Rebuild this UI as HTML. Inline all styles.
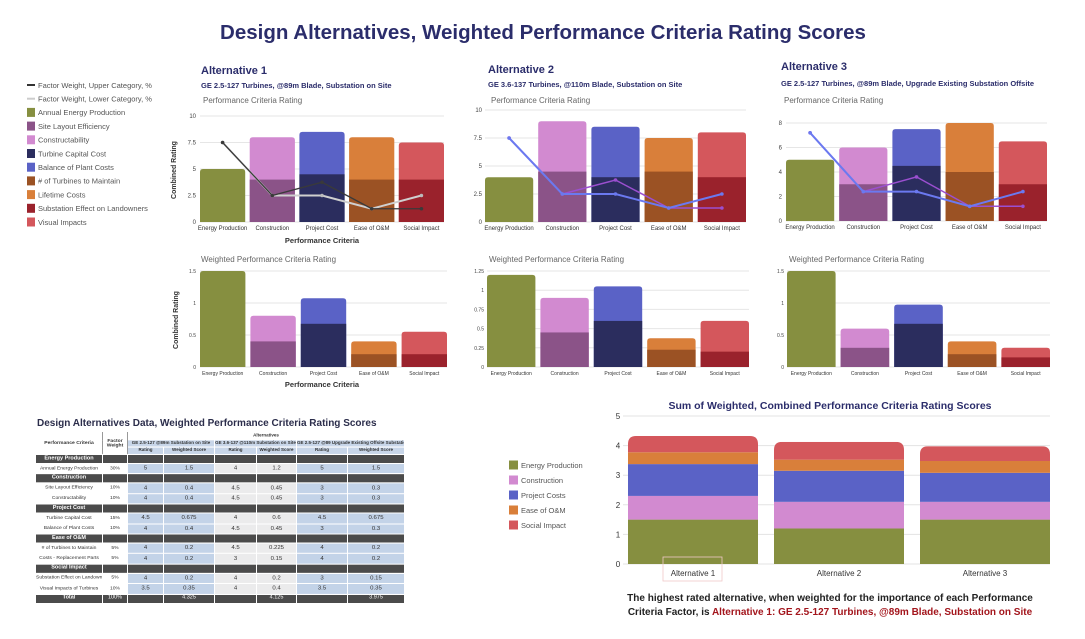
<!DOCTYPE html>
<html><head><meta charset="utf-8">
<style>
body{margin:0;width:1085px;height:639px;background:#fff;overflow:hidden;font-family:"Liberation Sans",sans-serif;position:relative}
svg{position:absolute;left:0;top:0}
#tbl{position:absolute;left:35px;top:432px;width:369px;border-collapse:collapse;table-layout:fixed;font-family:"Liberation Sans Narrow","Liberation Sans",sans-serif;font-size:5px;color:#333;transform:scale(1,0.915);transform-origin:0 0}
#tbl td{border:0.5px solid #fff;text-align:center;padding:0;overflow:hidden;white-space:nowrap;line-height:1}
#tbl tr.sec td{background:#4b4b4b;color:#fff;font-weight:bold;font-size:5.5px;height:9px}
#tbl tr.dat td{height:10.4px}
#tbl tr.dat td.b{background:#c3d3e8;font-size:6px}
#tbl tr.dat td.g{background:#ebebec;font-size:6px}
#tbl tr.dat td.w{background:#fff}
#tbl tr.h td{background:#c8d6e9;height:7px;font-size:4.5px;font-weight:bold}
#tbl tr.tot td{background:#4b4b4b;color:#fff;height:9px;font-size:5.5px}
</style></head>
<body>
<svg id="chart" width="1085" height="639"></svg>
<table id="tbl">
<colgroup><col style="width:67px"><col style="width:25px"><col style="width:36px"><col style="width:51px"><col style="width:42px"><col style="width:40px"><col style="width:51px"><col style="width:57px"></colgroup>
<tr style="height:8px"><td rowspan="3" style="font-weight:bold;font-size:5px;border-right:0.5px solid #999">Performance Criteria</td><td rowspan="3" style="font-weight:bold;font-size:5px;border-right:0.5px solid #999">Factor<br>Weight</td><td colspan="6" style="font-weight:bold;font-size:4.5px;background:#fff">Alternatives</td></tr>
<tr class="h"><td colspan="2">GE 2.5-127 @89m Substation on Site</td><td colspan="2">GE 3.6-137 @110m Substation on Site</td><td colspan="2">GE 2.5-127 @89 Upgrade Existing Offsite Substation</td></tr>
<tr class="h"><td>Rating</td><td>Weighted Score</td><td>Rating</td><td>Weighted Score</td><td>Rating</td><td>Weighted Score</td></tr>
<tr class="sec"><td>Energy Production</td><td></td><td></td><td></td><td></td><td></td><td></td><td></td></tr>
<tr class="dat"><td class="w">Annual Energy Production</td><td class="w">30%</td><td class="b">5</td><td class="b">1.5</td><td class="g">4</td><td class="g">1.2</td><td class="b">5</td><td class="b">1.5</td></tr>
<tr class="sec"><td>Construction</td><td></td><td></td><td></td><td></td><td></td><td></td><td></td></tr>
<tr class="dat"><td class="w">Site Layout Efficiency</td><td class="w">10%</td><td class="b">4</td><td class="b">0.4</td><td class="g">4.5</td><td class="g">0.45</td><td class="b">3</td><td class="b">0.3</td></tr>
<tr class="dat"><td class="w">Constructability</td><td class="w">10%</td><td class="b">4</td><td class="b">0.4</td><td class="g">4.5</td><td class="g">0.45</td><td class="b">3</td><td class="b">0.3</td></tr>
<tr class="sec"><td>Project Cost</td><td></td><td></td><td></td><td></td><td></td><td></td><td></td></tr>
<tr class="dat"><td class="w">Turbine Capital Cost</td><td class="w">15%</td><td class="b">4.5</td><td class="b">0.675</td><td class="g">4</td><td class="g">0.6</td><td class="b">4.5</td><td class="b">0.675</td></tr>
<tr class="dat"><td class="w">Balance of Plant Costs</td><td class="w">10%</td><td class="b">4</td><td class="b">0.4</td><td class="g">4.5</td><td class="g">0.45</td><td class="b">3</td><td class="b">0.3</td></tr>
<tr class="sec"><td>Ease of O&amp;M</td><td></td><td></td><td></td><td></td><td></td><td></td><td></td></tr>
<tr class="dat"><td class="w"># of Turbines to Maintain</td><td class="w">5%</td><td class="b">4</td><td class="b">0.2</td><td class="g">4.5</td><td class="g">0.225</td><td class="b">4</td><td class="b">0.2</td></tr>
<tr class="dat"><td class="w">Costs - Replacement Parts</td><td class="w">5%</td><td class="b">4</td><td class="b">0.2</td><td class="g">3</td><td class="g">0.15</td><td class="b">4</td><td class="b">0.2</td></tr>
<tr class="sec"><td>Social Impact</td><td></td><td></td><td></td><td></td><td></td><td></td><td></td></tr>
<tr class="dat"><td class="w">Substation Effect on Landowners</td><td class="w">5%</td><td class="b">4</td><td class="b">0.2</td><td class="g">4</td><td class="g">0.2</td><td class="b">3</td><td class="b">0.15</td></tr>
<tr class="dat"><td class="w">Visual Impacts of Turbines</td><td class="w">10%</td><td class="b">3.5</td><td class="b">0.35</td><td class="g">4</td><td class="g">0.4</td><td class="b">3.5</td><td class="b">0.35</td></tr>
<tr class="tot"><td style="font-weight:bold">Total</td><td>100%</td><td></td><td>4.325</td><td></td><td>4.125</td><td></td><td>3.975</td></tr>
</table>
<script>
// ---- data ----
const categories = ["Energy Production","Construction","Project Cost","Ease of O&M","Social Impact"];
const alt1Lower = [5,4,4.5,4,4];
const alt1Upper = [0,4,4,4,3.5];
const alt2Lower = [4,4.5,4,4.5,4];
const alt2Upper = [0,4.5,4.5,3,4];
const alt3Lower = [5,3,4.5,4,3];
const alt3Upper = [0,3,3,4,3.5];
const alt1WLower = [1.5,0.4,0.675,0.2,0.2];
const alt1WUpper = [0,0.4,0.4,0.2,0.35];
const alt2WLower = [1.2,0.45,0.6,0.225,0.2];
const alt2WUpper = [0,0.45,0.45,0.15,0.4];
const alt3WLower = [1.5,0.3,0.675,0.2,0.15];
const alt3WUpper = [0,0.3,0.3,0.2,0.15];
const weightUpperCat = [30,10,15,5,5];
const weightLowerCat = [30,10,10,5,10];
const tick10 = [0,2.5,5,7.5,10];
const tick8 = [0,2,4,6,8];
const tick15 = [0,0.5,1,1.5];
const tick125 = [0,0.25,0.5,0.75,1,1.25];
const sumAlternatives = ["Alternative 1","Alternative 2","Alternative 3"];
const sumEnergy = [1.5,1.2,1.5];
const sumConstruction = [0.8,0.9,0.6];
const sumProject = [1.075,1.05,0.98];
const sumEase = [0.4,0.375,0.4];
const sumSocial = [0.55,0.6,0.5];
const sumTicks = [0,1,2,3,4,5];

const lowerColors = ["#868f40","#8b5388","#2b2d5e","#9b5224","#9a222c"];
const upperColors = ["#868f40","#d28ad0","#5a62c6","#d97f3a","#d4575c"];
const NS="http://www.w3.org/2000/svg";
const svg=document.getElementById('chart');
function el(tag,attrs,parent){const e=document.createElementNS(NS,tag);for(const k in attrs)e.setAttribute(k,attrs[k]);(parent||svg).appendChild(e);return e;}
function txt(x,y,s,attrs,name){const t=el('text',Object.assign({x:x,y:y,'font-family':'Liberation Sans, sans-serif'},attrs));t.textContent=s;


return t;}
function topRound(x,y,w,h,r){r=Math.min(r,h,w/2);return `M${x},${y+h}V${y+r}Q${x},${y} ${x+r},${y}H${x+w-r}Q${x+w},${y} ${x+w},${y+r}V${y+h}Z`;}

function stacked(o){
  const g=el('g',{});
  
  
  const yS=v=>o.y0-(v/o.max)*(o.y0-o.y1);
  const n=o.lower.length,gap=o.gap,bw=(o.x1-o.x0-gap*(n-1))/n;
  const xC=i=>o.x0+i*(bw+gap)+bw/2;
  o.ticks.forEach(t=>{
    const ln=el('line',{x1:o.x0,x2:o.x1,y1:yS(t),y2:yS(t),stroke:'#e6e6e6','stroke-width':1},g);
    
    
    txt(o.tx,yS(t)+2,String(t),{'font-size':o.tfs||6,fill:'#444','text-anchor':'end'},'y-tick-label');
  });
  for(let i=0;i<n;i++){
    const x=xC(i)-bw/2,lo=o.lower[i],up=o.upper[i],tot=lo+up;
    const topC=up>0?upperColors[i]:lowerColors[i];
    const p=el('path',{d:topRound(x,yS(tot),bw,yS(0)-yS(tot),3),fill:topC},g);
    
    
    if(up>0){const r=el('rect',{x:x,y:yS(lo),width:bw,height:yS(0)-yS(lo),fill:lowerColors[i]},g);
      
      }
    txt(xC(i),o.ly,categories[i],{'font-size':o.lfs||6,fill:'#333','text-anchor':'middle'},'x-tick-label');
  }
  if(o.lines){o.lines.forEach(L=>{
    const pts=L.vals.map((v,i)=>xC(i)+','+yS(v*L.k)).join(' ');
    const pl=el('polyline',{points:pts,fill:'none',stroke:L.c,'stroke-width':L.w||1.5},g);
    
    
    L.vals.forEach((v,i)=>{const c=el('circle',{cx:xC(i),cy:yS(v*L.k),r:1.8,fill:L.dot||L.c},g);
      
      });
  });}
}

// title
txt(543,39,"Design Alternatives, Weighted Performance Criteria Rating Scores",{'font-size':20.5,'font-weight':'bold',fill:'#2b2d6b','text-anchor':'middle'},'main-title');

// left legend
const legItems=[["line","#333","Factor Weight, Upper Category, %"],["line","#ccc","Factor Weight, Lower Category, %"],
["box","#868f40","Annual Energy Production"],["box","#8b5388","Site Layout Efficiency"],["box","#d28ad0","Constructability"],
["box","#2b2d5e","Turbine Capital Cost"],["box","#5a62c6","Balance of Plant Costs"],["box","#9b5224","# of Turbines to Maintain"],
["box","#d97f3a","Lifetime Costs"],["box","#9a222c","Substation Effect on Landowners"],["box","#d4575c","Visual Impacts"]];
legItems.forEach((it,i)=>{const y=85+i*13.7;
  if(it[0]=="line"){const l=el('line',{x1:27,x2:35,y1:y,y2:y,stroke:it[1],'stroke-width':2});}
  else{const r=el('rect',{x:27,y:y-4.5,width:8,height:9,fill:it[1]});}
  txt(38,y+2.8,it[2],{'font-size':7.5,fill:'#555'},'legend-entry');
});

// headers
txt(201,74,"Alternative 1",{'font-size':11,'font-weight':'bold',fill:'#2b2d6b'},'alt1-title');
txt(201,88,"GE 2.5-127 Turbines, @89m Blade, Substation on Site",{'font-size':7.5,'font-weight':'bold',fill:'#2b2d6b'},'alt1-subtitle');
txt(203,103,"Performance Criteria Rating",{'font-size':8,fill:'#666'},'alt1-chart-title');
txt(488,73,"Alternative 2",{'font-size':11,'font-weight':'bold',fill:'#2b2d6b'},'alt2-title');
txt(488,87,"GE 3.6-137 Turbines, @110m Blade, Substation on Site",{'font-size':7.5,'font-weight':'bold',fill:'#2b2d6b'},'alt2-subtitle');
txt(491,103,"Performance Criteria Rating",{'font-size':8,fill:'#666'},'alt2-chart-title');
txt(781,70,"Alternative 3",{'font-size':11,'font-weight':'bold',fill:'#2b2d6b'},'alt3-title');
txt(781,86,"GE 2.5-127 Turbines, @89m Blade, Upgrade Existing Substation Offsite",{'font-size':7.5,'font-weight':'bold',fill:'#2b2d6b'},'alt3-subtitle');
txt(784,103,"Performance Criteria Rating",{'font-size':8,fill:'#666'},'alt3-chart-title');
txt(201,262,"Weighted Performance Criteria Rating",{'font-size':8,fill:'#666'},'alt1-weighted-title');
txt(489,262,"Weighted Performance Criteria Rating",{'font-size':8,fill:'#666'},'alt2-weighted-title');
txt(789,262,"Weighted Performance Criteria Rating",{'font-size':8,fill:'#666'},'alt3-weighted-title');
txt(176,170,"Combined Rating",{'font-size':7,'font-weight':'bold',fill:'#333','text-anchor':'middle',transform:'rotate(-90 176 170)'},'y-axis-title');
txt(178,320,"Combined Rating",{'font-size':7,'font-weight':'bold',fill:'#333','text-anchor':'middle',transform:'rotate(-90 178 320)'},'y-axis-title');
txt(322,243,"Performance Criteria",{'font-size':7.5,'font-weight':'bold',fill:'#333','text-anchor':'middle'},'x-axis-title');
txt(322,387,"Performance Criteria",{'font-size':7.5,'font-weight':'bold',fill:'#333','text-anchor':'middle'},'x-axis-title');

stacked({name:'alt1-rating-chart',x0:200,x1:444,y0:222,y1:116,max:10,ticks:tick10,tx:196,gap:4.5,lower:alt1Lower,upper:alt1Upper,ly:230,
 lines:[{vals:weightLowerCat,k:0.25,c:'#cfcfcf',w:2,dot:'#bbb',name:'line-weight-lower'},{vals:weightUpperCat,k:0.25,c:'#3a3a3a',w:1.3,name:'line-weight-upper'}]});
stacked({name:'alt2-rating-chart',x0:485,x1:746,y0:222,y1:110,max:10,ticks:tick10,tx:482,gap:5,lower:alt2Lower,upper:alt2Upper,ly:230,
 lines:[{vals:weightUpperCat,k:0.25,c:'#9b4fd0',name:'line-weight-upper'},{vals:weightLowerCat,k:0.25,c:'#6b79f0',w:2,name:'line-weight-lower'}]});
stacked({name:'alt3-rating-chart',x0:786,x1:1047,y0:221,y1:123,max:8,ticks:tick8,tx:782,gap:5,lower:alt3Lower,upper:alt3Upper,ly:229,
 lines:[{vals:weightUpperCat,k:0.24,c:'#9b4fd0',name:'line-weight-upper'},{vals:weightLowerCat,k:0.24,c:'#6b79f0',w:2,name:'line-weight-lower'}]});
stacked({name:'alt1-weighted-chart',x0:200,x1:447,y0:367,y1:271,max:1.5,ticks:tick15,tx:196,tfs:5,gap:5,lower:alt1WLower,upper:alt1WUpper,ly:375,lfs:5});
stacked({name:'alt2-weighted-chart',x0:487,x1:749,y0:367,y1:271,max:1.25,ticks:tick125,tx:484,tfs:5,gap:5,lower:alt2WLower,upper:alt2WUpper,ly:375,lfs:5});
stacked({name:'alt3-weighted-chart',x0:787,x1:1050,y0:367,y1:271,max:1.5,ticks:tick15,tx:784,tfs:5,gap:5,lower:alt3WLower,upper:alt3WUpper,ly:375,lfs:5});

// table title
txt(37,426,"Design Alternatives Data, Weighted Performance Criteria Rating Scores",{'font-size':10,'font-weight':'bold',fill:'#2b2d4b'},'table-title');

// sum chart
(function(){
  const x0=628,x1=1050,y0=564,y1=416,max=5;
  const yS=v=>y0-(v/max)*(y0-y1);
  const series=[sumEnergy,sumConstruction,sumProject,sumEase,sumSocial];
  const sColors=["#868f40","#d28ad0","#5a62c6","#d97f3a","#d4575c"];
  const sNames=["Energy Production","Construction","Project Costs","Ease of O&M","Social Impact"];
  txt(830,409,"Sum of Weighted, Combined Performance Criteria Rating Scores",{'font-size':10.5,'font-weight':'bold',fill:'#2b2d6b','text-anchor':'middle'},'sum-chart-title');
  sumTicks.forEach(t=>{const l=el('line',{x1:623,x2:x1,y1:yS(t),y2:yS(t),stroke:'#e3e3e3','stroke-width':1});
    
    txt(618,yS(t)+3,String(t),{'font-size':8,fill:'#333','text-anchor':'middle'},'y-tick-label');});
  const n=sumAlternatives.length,gap=16,bw=(x1-x0-gap*(n-1))/n;
  for(let i=0;i<n;i++){
    const x=x0+i*(bw+gap);let cum=0;
    const tot=series.reduce((a,s)=>a+s[i],0);
    const cp=el('clipPath',{id:'cp'+i});el('path',{d:topRound(x,yS(tot),bw,yS(0)-yS(tot),8)},cp);
    const g=el('g',{'clip-path':'url(#cp'+i+')'});
    
    
    series.forEach((s,j)=>{const r=el('rect',{x:x,y:yS(cum+s[i]),width:bw,height:yS(cum)-yS(cum+s[i]),fill:sColors[j]},g);
      
      cum+=s[i];});
    txt(x+bw/2,576,sumAlternatives[i],{'font-size':8,fill:'#333','text-anchor':'middle'},'x-tick-label');
  }
  const hb=el('rect',{x:663,y:557,width:59,height:24,fill:'none',stroke:'#f0c8c8','stroke-width':0.8});
  
  sNames.forEach((nm,j)=>{const y=465+j*15;
    const r=el('rect',{x:509,y:y-4.5,width:9,height:9,fill:sColors[j]});
    
    txt(521,y+3,nm,{'font-size':7.5,fill:'#555'},'legend-entry');});
  txt(830,601,"The highest rated alternative, when weighted for the importance of each Performance",{'font-size':10,'font-weight':'bold',fill:'#222','text-anchor':'middle'},'conclusion-line-1');
  const t=txt(830,615,"",{'font-size':10,'font-weight':'bold',fill:'#222','text-anchor':'middle'},'conclusion-line-2');
  const a=el('tspan',{},t);a.textContent="Criteria Factor, is ";
  const b=el('tspan',{fill:'#a3151c'},t);b.textContent="Alternative 1: GE 2.5-127 Turbines, @89m Blade, Substation on Site";
})();
</script>
</body></html>
